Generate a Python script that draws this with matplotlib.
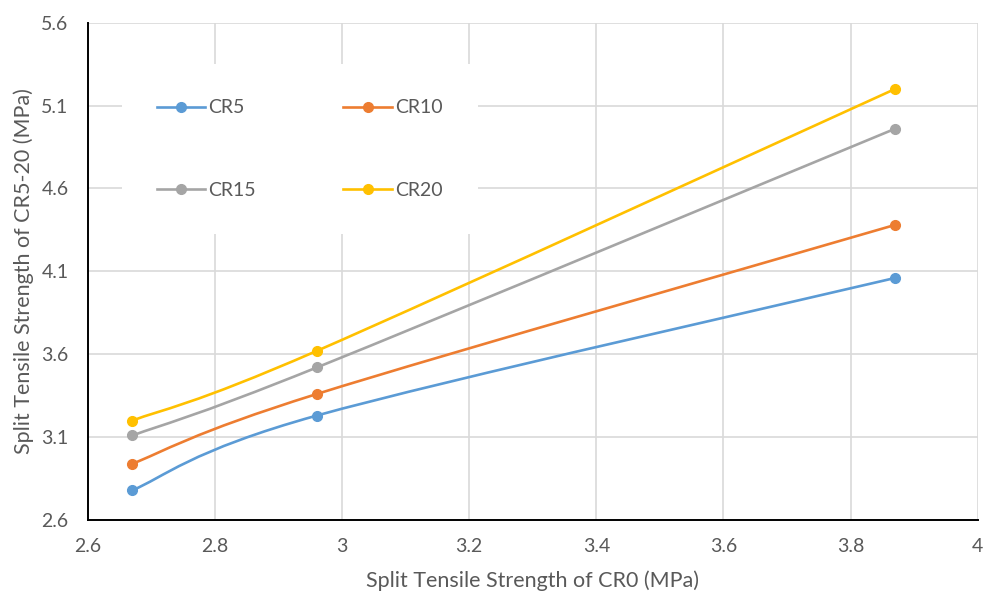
import matplotlib.pyplot as plt
from matplotlib.path import Path
from matplotlib.patches import PathPatch
from matplotlib.lines import Line2D

# data
cr0 = [2.67, 2.96, 3.87]
cr5 = [2.78, 3.23, 4.06]
cr10 = [2.94, 3.36, 4.38]
cr15 = [3.11, 3.52, 4.96]
cr20 = [3.20, 3.62, 5.20]

series_names = ['CR5', 'CR10', 'CR15', 'CR20']
series_values = [cr5, cr10, cr15, cr20]
colors = ['#5B9BD5', '#ED7D31', '#A5A5A5', '#FFC000']

plt.rcParams['font.family'] = ['Lato', 'DejaVu Sans']
text_color = '#595959'


def smooth_path(xs, ys):
    # bezier segments like excel's smoothed line (catmull-rom style)
    pts = list(zip(xs, ys))
    n = len(pts)
    verts = [pts[0]]
    codes = [Path.MOVETO]
    for i in range(n - 1):
        p0 = pts[i - 1] if i > 0 else pts[i]
        p1 = pts[i]
        p2 = pts[i + 1]
        p3 = pts[i + 2] if i + 2 < n else pts[i + 1]
        c1 = (p1[0] + (p2[0] - p0[0]) / 6, p1[1] + (p2[1] - p0[1]) / 6)
        c2 = (p2[0] - (p3[0] - p1[0]) / 6, p2[1] - (p3[1] - p1[1]) / 6)
        verts += [c1, c2, p2]
        codes += [Path.CURVE4] * 3
    return Path(verts, codes)


fig = plt.figure(figsize=(9.83, 5.93), dpi=100)
ax = fig.add_axes([0.0895, 0.1231, 0.905, 0.8386])

handles = {}
for name, vals, c in zip(series_names, series_values, colors):
    ax.add_patch(PathPatch(smooth_path(cr0, vals), fill=False, edgecolor=c,
                           linewidth=1.9, capstyle='round', zorder=3))
    ax.plot(cr0, vals, linestyle='none', marker='o', markersize=7,
            color=c, zorder=4)
    handles[name] = Line2D([0], [0], color=c, linewidth=1.9, marker='o',
                           markersize=7, label=name)

ax.set_xlim(2.6, 4.0)
ax.set_ylim(2.6, 5.6)
ax.set_xticks([2.6, 2.8, 3.0, 3.2, 3.4, 3.6, 3.8, 4.0])
ax.set_xticklabels(['2.6', '2.8', '3', '3.2', '3.4', '3.6', '3.8', '4'])
ax.set_yticks([2.6, 3.1, 3.6, 4.1, 4.6, 5.1, 5.6])

ax.grid(True, color='#D9D9D9', linewidth=1.2, zorder=0)
ax.set_axisbelow(True)
for s in ['top', 'right']:
    ax.spines[s].set_visible(False)
for s in ['left', 'bottom']:
    ax.spines[s].set_color('black')
    ax.spines[s].set_linewidth(1.4)
ax.tick_params(length=0, labelsize=14, colors=text_color)
ax.tick_params(axis='x', pad=13)
ax.tick_params(axis='y', pad=14)

ax.set_xlabel('Split Tensile Strength of CR0 (MPa)', fontsize=15.5,
              color=text_color, labelpad=11)
ax.set_ylabel('Split Tensile Strength of CR5-20 (MPa)', fontsize=15.5,
              color=text_color, labelpad=5)

# row-wise order: CR5 CR10 / CR15 CR20
order = ['CR5', 'CR15', 'CR10', 'CR20']
leg = ax.legend(handles=[handles[k] for k in order], ncol=2,
                loc='upper left', bbox_to_anchor=(0.038, 0.916),
                borderaxespad=0, frameon=True, facecolor='white',
                edgecolor='none', framealpha=1, fontsize=14,
                handlelength=2.5, handletextpad=0.15, labelspacing=3.35,
                columnspacing=4.5, borderpad=1.8)
for t in leg.get_texts():
    t.set_color(text_color)
leg.set_zorder(2)

fig.savefig('out.png', dpi=100)
